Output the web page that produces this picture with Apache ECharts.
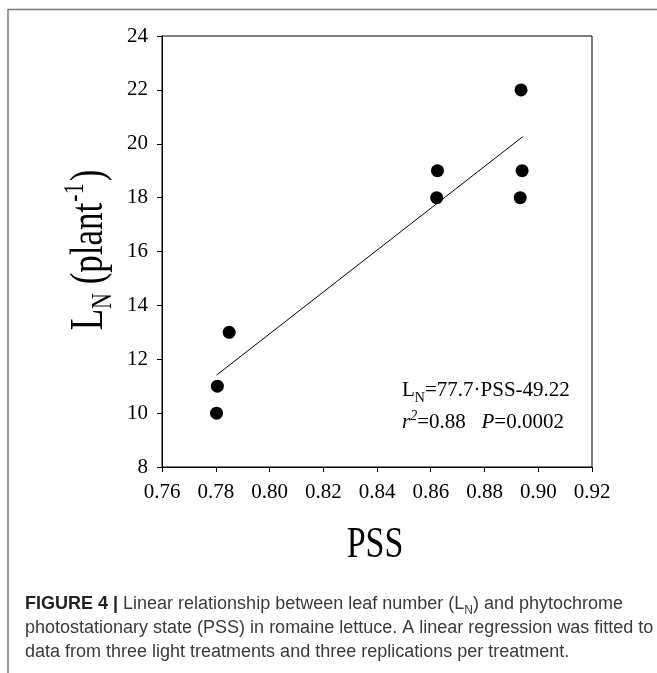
<!DOCTYPE html>
<html>
<head>
<meta charset="utf-8">
<script src="https://cdn.jsdelivr.net/npm/echarts@6/dist/echarts.min.js"></script>
<style>
  html, body { margin: 0; padding: 0; background: #fff; }
  #chart { width: 657px; height: 673px; }
</style>
</head>
<body>
<div id="chart"></div>
<script>
// ---- data ----
const pss = [0.7803, 0.7806, 0.785, 0.8622, 0.8625, 0.8933, 0.894, 0.8936];
const leafNumber = [10, 11, 13, 18, 19, 18, 19, 22];
const fitPss = [0.7803, 0.8942];
const fitLeaf = [11.41, 20.26];
const xRange = [0.76, 0.92];
const xStep = 0.02;
const yRange = [8, 24];
const yStep = 2;
const equationText = ['77.7', '49.22'];
const statText = ['0.88', '0.0002'];

const serif = '"Liberation Serif", "Times New Roman", serif';
const sans = '"Liberation Sans", Arial, sans-serif';

const chart = echarts.init(document.getElementById('chart'), null, { renderer: 'canvas' });

const scatterData = pss.map((x, i) => [x, leafNumber[i]]);
const fitData = fitPss.map((x, i) => [x, fitLeaf[i]]);

const option = {
  animation: false,
  backgroundColor: '#fff',
  grid: {
    left: 162, top: 36, right: 65, bottom: 206,
    show: true, borderColor: '#000', borderWidth: 1, backgroundColor: 'transparent'
  },
  xAxis: {
    type: 'value', min: xRange[0], max: xRange[1], interval: xStep,
    axisLine: { show: true, onZero: false, lineStyle: { color: '#000', width: 1 } },
    axisTick: { show: true, inside: false, length: 5, lineStyle: { color: '#000' } },
    splitLine: { show: false },
    axisLabel: {
      color: '#000', fontFamily: serif, fontSize: 21, margin: 15,
      formatter: v => v.toFixed(2)
    }
  },
  yAxis: {
    type: 'value', min: yRange[0], max: yRange[1], interval: yStep,
    axisLine: { show: true, onZero: false, lineStyle: { color: '#000', width: 1 } },
    axisTick: { show: true, inside: false, length: 5, lineStyle: { color: '#000' } },
    splitLine: { show: false },
    axisLabel: { color: '#000', fontFamily: serif, fontSize: 21, margin: 14 }
  },
  series: [
    {
      type: 'line', data: fitData, symbol: 'none',
      lineStyle: { color: '#000', width: 1 }, z: 2
    },
    {
      type: 'scatter', data: scatterData, symbol: 'circle', symbolSize: 13,
      itemStyle: { color: '#000', opacity: 1 }, z: 3
    }
  ],
  graphic: [
    // figure frame
    { type: 'line', shape: { x1: 8, y1: 9.5, x2: 657, y2: 9.5 }, style: { stroke: '#7a7a7a', lineWidth: 1.5 } },
    { type: 'line', shape: { x1: 8, y1: 9, x2: 8, y2: 673 }, style: { stroke: '#7a7a7a', lineWidth: 1.5 } },
    // y axis title
    {
      type: 'text', x: 87, y: 250, rotation: Math.PI / 2, scaleY: 1.3,
      style: {
        text: '{m|L}{s|N}{m| (plant}{p|-1}{m|)}',
        textAlign: 'center', textVerticalAlign: 'middle', fill: '#000',
        rich: {
          m: { fontFamily: serif, fontSize: 35, fill: '#000', lineHeight: 40, verticalAlign: 'bottom' },
          s: { fontFamily: serif, fontSize: 22, fill: '#000', lineHeight: 22, verticalAlign: 'bottom', padding: [0, 0, -4, 0] },
          p: { fontFamily: serif, fontSize: 22, fill: '#000', lineHeight: 22, verticalAlign: 'top', padding: [0, 2, 0, 1] }
        }
      }
    },
    // x axis title
    {
      type: 'text', x: 375, y: 545, scaleY: 1.33,
      style: {
        text: 'PSS', fontFamily: serif, fontSize: 34, fill: '#000',
        textAlign: 'center', textVerticalAlign: 'middle'
      }
    },
    // regression annotation
    {
      type: 'text', x: 402, y: 389,
      style: {
        text: '{m|L}{s|N}{m|=' + equationText[0] + '·PSS-' + equationText[1] + '}',
        textAlign: 'left', textVerticalAlign: 'middle',
        rich: {
          m: { fontFamily: serif, fontSize: 21, fill: '#000', lineHeight: 24, verticalAlign: 'bottom' },
          s: { fontFamily: serif, fontSize: 14, fill: '#000', lineHeight: 14, verticalAlign: 'bottom', padding: [0, 0, -4, 0] }
        }
      }
    },
    {
      type: 'text', x: 402, y: 421,
      style: {
        text: '{i|r}{p|2}{m|=' + statText[0] + '   }{i|P}{m|=' + statText[1] + '}',
        textAlign: 'left', textVerticalAlign: 'middle',
        rich: {
          m: { fontFamily: serif, fontSize: 21, fill: '#000', lineHeight: 24, verticalAlign: 'bottom' },
          i: { fontFamily: serif, fontSize: 21, fontStyle: 'italic', fill: '#000', lineHeight: 24, verticalAlign: 'bottom' },
          p: { fontFamily: serif, fontSize: 14, fontStyle: 'italic', fill: '#000', lineHeight: 14, verticalAlign: 'top' }
        }
      }
    },
    // caption
    {
      type: 'text', x: 25, y: 603,
      style: {
        text: '{b|FIGURE 4 |}{n| Linear relationship between leaf number (L}{s|N}{n|) and phytochrome}',
        textAlign: 'left', textVerticalAlign: 'middle',
        rich: {
          b: { fontFamily: sans, fontSize: 18, fontWeight: 'bold', fill: '#222', lineHeight: 21, verticalAlign: 'bottom' },
          n: { fontFamily: sans, fontSize: 18, fill: '#3a3a3a', lineHeight: 21, verticalAlign: 'bottom' },
          s: { fontFamily: sans, fontSize: 12, fill: '#3a3a3a', lineHeight: 12, verticalAlign: 'bottom', padding: [0, 0, -3, 0] }
        }
      }
    },
    {
      type: 'text', x: 25, y: 628,
      style: {
        text: 'photostationary state (PSS) in romaine lettuce. A linear regression was fitted to',
        fontFamily: sans, fontSize: 18, fill: '#3a3a3a', textAlign: 'left', textVerticalAlign: 'middle'
      }
    },
    {
      type: 'text', x: 25, y: 652,
      style: {
        text: 'data from three light treatments and three replications per treatment.',
        fontFamily: sans, fontSize: 18, fill: '#3a3a3a', textAlign: 'left', textVerticalAlign: 'middle'
      }
    }
  ]
};

chart.setOption(option);
</script>
</body>
</html>
